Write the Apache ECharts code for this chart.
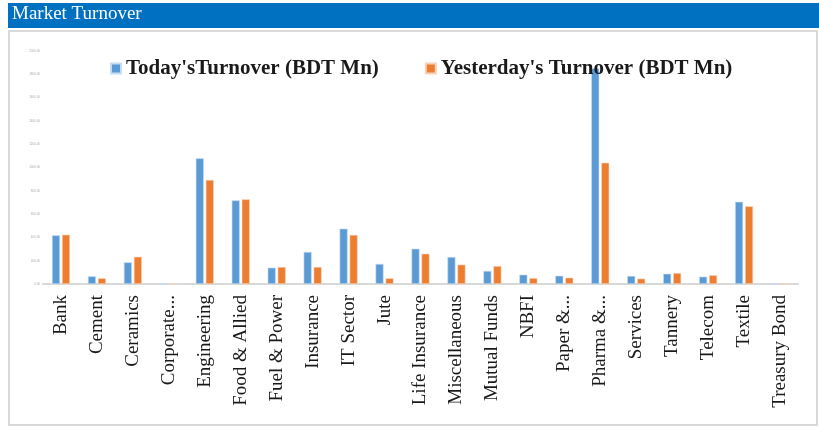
<!DOCTYPE html>
<html><head><meta charset="utf-8">
<script src="https://cdn.jsdelivr.net/npm/echarts@6/dist/echarts.min.js"></script>
<style>html,body{margin:0;padding:0;background:#fff;}#c{width:819px;height:427px;}</style>
</head><body><div id="c"></div>
<script>
const categories = ["Bank","Cement","Ceramics","Corporate...","Engineering","Food & Allied","Fuel & Power","Insurance","IT Sector","Jute","Life Insurance","Miscellaneous","Mutual Funds","NBFI","Paper &...","Pharma &...","Services","Tannery","Telecom","Textile","Treasury Bond"];
const todayTurnover = [418,66,186,0,1079,718,140,275,475,172,303,232,112,80,71,1851,69,88,63,706,0];
const yesterdayTurnover = [423,49,234,0,893,727,146,146,421,49,260,166,154,51,54,1041,46,94,75,667,0];
const seriesNames = ["Today'sTurnover (BDT Mn)","Yesterday's Turnover (BDT Mn)"];
const titleText = "Market Turnover";

const serif = "'Liberation Serif','DejaVu Serif',serif";
const chart = echarts.init(document.getElementById('c'), null, {renderer:'canvas'});
chart.setOption({
  animation:false,
  backgroundColor:'#fff',
  graphic:[
    {type:'rect', shape:{x:8,y:3,width:811,height:25}, style:{fill:'#0070C0'}, z:0},
    {type:'rect', shape:{x:9,y:31,width:808,height:394}, style:{fill:'none',stroke:'#d9d9d9',lineWidth:2}, z:0},
    {type:'text', left:12, top:5, style:{text:titleText, fill:'#fff', font:"19px "+serif}, z:1}
  ],
  legend:{
    top:53, left:105, itemWidth:10, itemHeight:10, itemGap:46,
    icon:'rect',
    textStyle:{fontFamily:serif, fontSize:21, fontWeight:'bold', color:'#1a1a1a'},
    data:seriesNames
  },
  grid:{left:43, right:21, top:51, bottom:143, containLabel:false},
  xAxis:{
    type:'category', data:categories,
    axisLine:{lineStyle:{color:'#d9d9d9', width:2}},
    axisTick:{show:false},
    axisLabel:{rotate:90, interval:0, fontFamily:serif, fontSize:19, color:'#1a1a1a', margin:11}
  },
  yAxis:{
    type:'value', min:0, max:2000, interval:200,
    axisLine:{show:false}, axisTick:{show:false},
    splitLine:{show:false},
    axisLabel:{fontSize:3, color:'#aaa', margin:3, formatter:v=>v.toFixed(2)}
  },
  series:[
    {name:seriesNames[0], type:'bar', data:todayTurnover, barWidth:8, barGap:'25%',
     itemStyle:{color:'#5B9BD5', borderColor:'#c6dcf1', borderWidth:0.6}},
    {name:seriesNames[1], type:'bar', data:yesterdayTurnover, barWidth:8,
     itemStyle:{color:'#ED7D31', borderColor:'#f8d3bb', borderWidth:0.6}}
  ]
});
</script></body></html>
